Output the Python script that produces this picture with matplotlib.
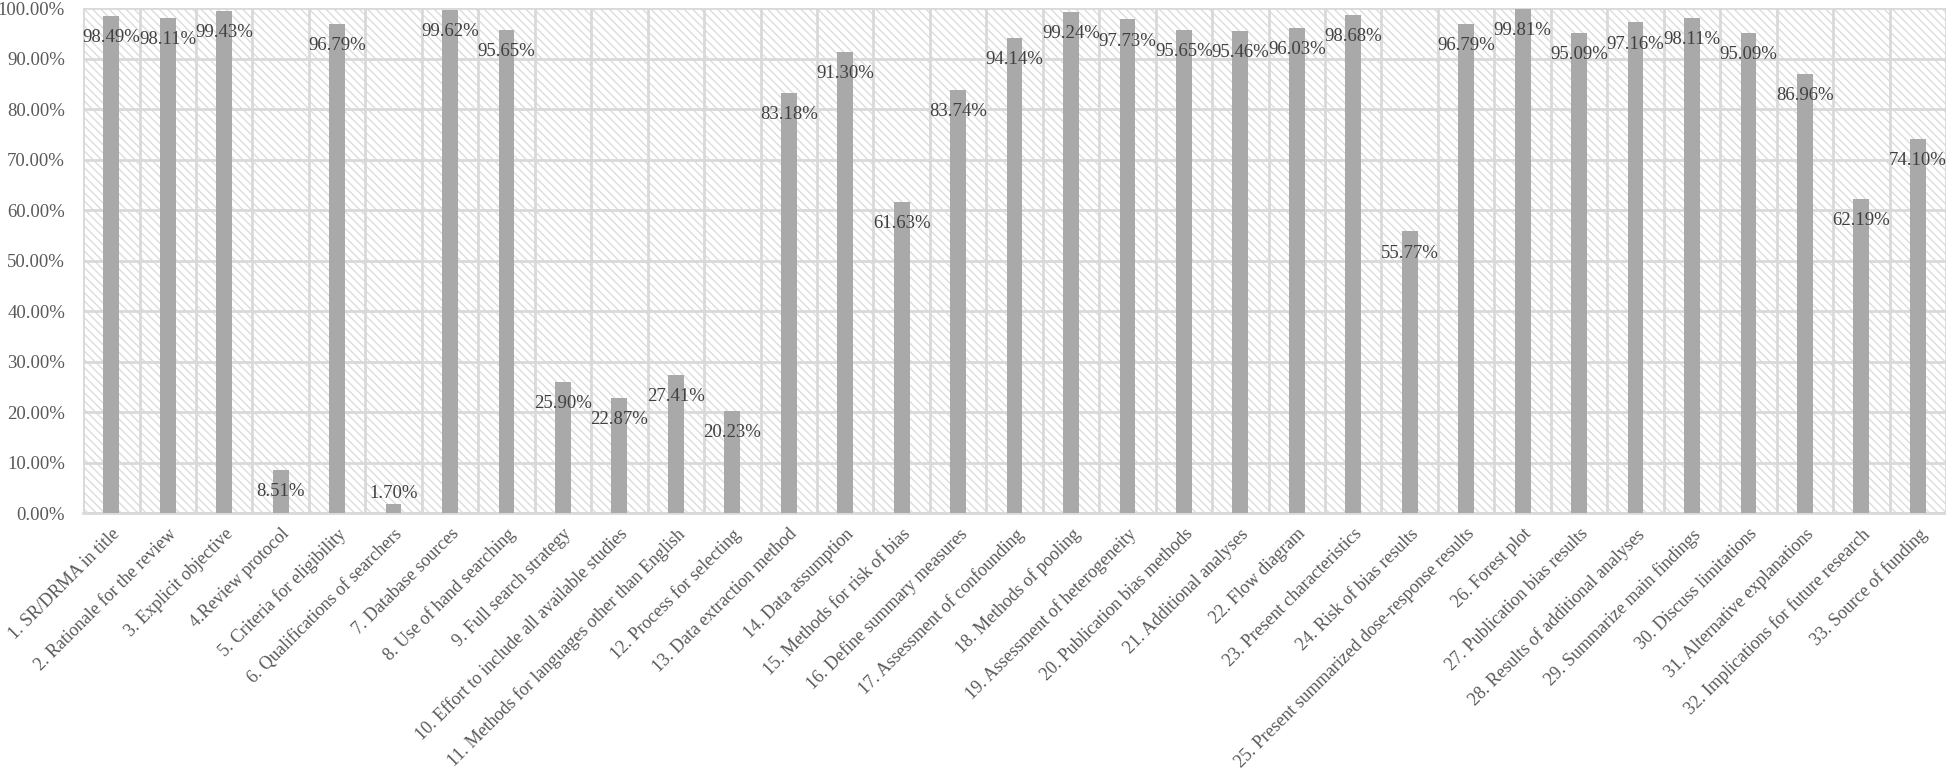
import matplotlib.pyplot as plt
from matplotlib.patches import Rectangle
from matplotlib.ticker import FixedLocator, PercentFormatter

# Items and compliance rates (%)
items = [
    '1. SR/DRMA in title', '2. Rationale for the review', '3. Explicit objective',
    '4.Review protocol', '5. Criteria for eligibility', '6. Qualifications of searchers',
    '7. Database sources', '8. Use of hand searching', '9. Full search strategy',
    '10. Effort to include all available studies',
    '11. Methods for languages other than English', '12. Process for selecting',
    '13. Data extraction method', '14. Data assumption', '15. Methods for risk of bias',
    '16. Define summary measures', '17. Assessment of confounding', '18. Methods of pooling',
    '19. Assessment of heterogeneity', '20. Publication bias methods', '21. Additional analyses',
    '22. Flow diagram', '23. Present characteristics', '24. Risk of bias results',
    '25. Present summarized dose-response results', '26. Forest plot',
    '27. Publication bias results', '28. Results of additional analyses',
    '29. Summarize main findings', '30. Discuss limitations', '31. Alternative explanations',
    '32. Implications for future research', '33. Source of funding',
]
rates = [98.49, 98.11, 99.43, 8.51, 96.79, 1.70, 99.62, 95.65, 25.90, 22.87, 27.41,
         20.23, 83.18, 91.30, 61.63, 83.74, 94.14, 99.24, 97.73, 95.65, 95.46, 96.03,
         98.68, 55.77, 96.79, 99.81, 95.09, 97.16, 98.11, 95.09, 86.96, 62.19, 74.10]

plt.rcParams['font.family'] = ['Liberation Serif', 'DejaVu Serif']
plt.rcParams['font.size'] = 13

fig = plt.figure(figsize=(19.46, 7.78), dpi=100)
ax = fig.add_axes([0.0427, 0.3406, 0.9573, 0.6491])

# hatched plot-area background
bg = Rectangle((0, 0), 1, 1, transform=ax.transAxes, facecolor='white',
               edgecolor='#DCDCDC', linewidth=0, hatch='\\\\\\\\', zorder=0)
ax.add_patch(bg)
ax.patch.set_visible(False)

x = range(len(items))
ax.bar(x, rates, width=0.28, color='#A9A9A9', zorder=3)

# labels sit just below the bar top, kept inside the plot for tiny bars
for i, v in enumerate(rates):
    ax.text(i, max(v - 4.3, 3.8), f'{v:.2f}%', ha='center', va='center',
            color='#404040', fontsize=13.5, zorder=4)

ax.set_xlim(-0.5, len(items) - 0.5)
ax.set_ylim(0, 100)
ax.set_yticks(range(0, 101, 10))
ax.yaxis.set_major_formatter(PercentFormatter(decimals=2))
ax.set_xticks(list(x))
ax.set_xticklabels(items, rotation=45, ha='right', rotation_mode='anchor', fontsize=13)
ax.xaxis.set_minor_locator(FixedLocator([i + 0.5 for i in range(-1, len(items))]))

ax.grid(axis='y', which='major', color='#D9D9D9', linewidth=2, zorder=1)
ax.grid(axis='x', which='minor', color='#D9D9D9', linewidth=2, zorder=1)
ax.tick_params(axis='both', which='both', length=0, labelcolor='#595959')
ax.tick_params(axis='y', pad=13, labelsize=13.5)
ax.tick_params(axis='x', pad=9)

for side in ['top', 'right', 'left']:
    ax.spines[side].set_visible(False)
ax.spines['bottom'].set_color('#D9D9D9')
ax.spines['bottom'].set_linewidth(2)

plt.savefig('out.png', dpi=100)
